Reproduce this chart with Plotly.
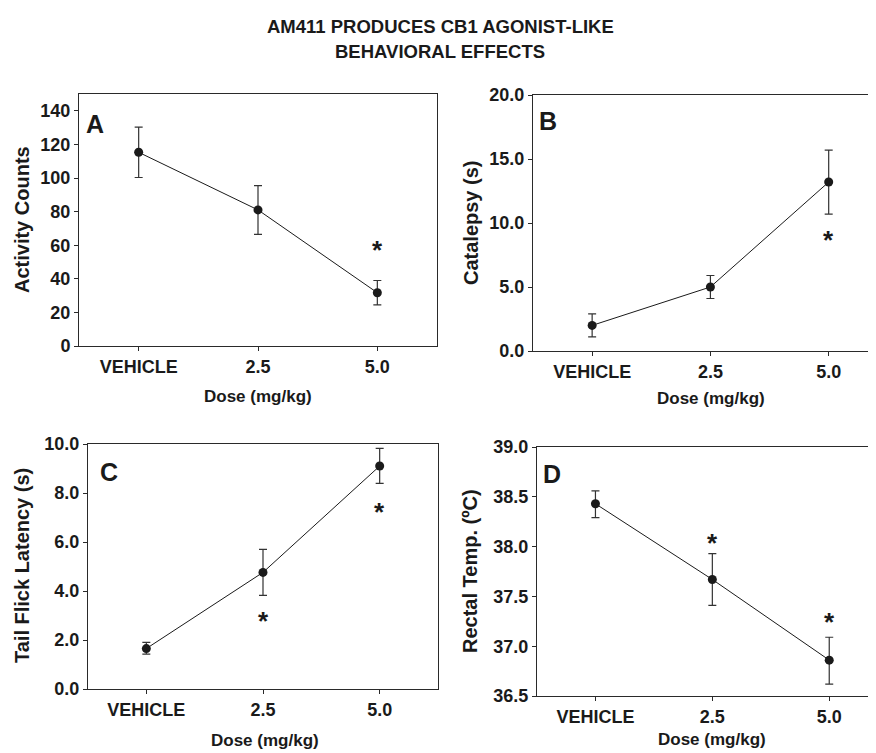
import plotly.graph_objects as go

W, H = 876, 753
OFF = 8  # page body margin offset seen in the rendered screenshot

categories = ["VEHICLE", "2.5", "5.0"]

# Panel A: Activity counts
a_mean = [115.3, 81.0, 31.7]
a_err_hi = [15.0, 14.5, 7.3]
a_err_lo = [15.0, 14.5, 7.2]
a_stars_x = [2]
a_stars_y = [59.0]

# Panel B: Catalepsy
b_mean = [2.0, 5.0, 13.2]
b_err_hi = [0.9, 0.9, 2.5]
b_err_lo = [0.9, 0.9, 2.5]
b_stars_x = [2]
b_stars_y = [8.9]

# Panel C: Tail flick latency
c_mean = [1.65, 4.76, 9.1]
c_err_hi = [0.25, 0.94, 0.72]
c_err_lo = [0.23, 0.94, 0.71]
c_stars_x = [1, 2]
c_stars_y = [2.9, 7.34]

# Panel D: Rectal temperature
d_mean = [38.43, 37.67, 36.86]
d_err_hi = [0.13, 0.26, 0.23]
d_err_lo = [0.14, 0.26, 0.24]
d_stars_x = [1, 2]
d_stars_y = [38.07, 37.27]

FONT = "Liberation Sans, Arial, sans-serif"
INK = "#1a1a1a"
AXC = "#2a2a2a"

def px(x):
    return min(max((x - OFF) / W, 0.0), 1.0)

def py(y):
    return min(max(1 - (y - OFF) / H, 0.0), 1.0)

# pixel boxes (screen coords): left, right, top, bottom
boxes = {
    "A": (79, 437, 94, 346),
    "B": (533, 876, 95, 351),
    "C": (88, 438, 444, 689),
    "D": (537, 876, 447, 696),
}

panels = [
    ("A", a_mean, a_err_hi, a_err_lo, a_stars_x, a_stars_y, [0, 150], list(range(0, 141, 20)), None, "Activity Counts", [-0.5, 2.5], True),
    ("B", b_mean, b_err_hi, b_err_lo, b_stars_x, b_stars_y, [0, 20], [0, 5, 10, 15, 20], ".1f", "Catalepsy (s)", [-0.5, 2.4], False),
    ("C", c_mean, c_err_hi, c_err_lo, c_stars_x, c_stars_y, [0, 10], [0, 2, 4, 6, 8, 10], ".1f", "Tail Flick Latency (s)", [-0.5, 2.5], True),
    ("D", d_mean, d_err_hi, d_err_lo, d_stars_x, d_stars_y, [36.5, 39.0], [36.5, 37.0, 37.5, 38.0, 38.5, 39.0], ".1f", "Rectal Temp. (ºC)", [-0.5, 2.4], False),
]

ytitle_pos = {"A": (22, 220), "B": (471, 223), "C": (22, 566), "D": (470, 571)}
xtitle_pos = {"A": (258, 396), "B": (711, 398), "C": (265, 740), "D": (712, 739)}
letter_pos = {"A": (95, 124), "B": (548, 121), "C": (109, 472), "D": (552, 474)}

fig = go.Figure()
layout = dict(
    width=W, height=H,
    margin=dict(l=0, r=0, t=0, b=0, pad=0, autoexpand=False),
    paper_bgcolor="white", plot_bgcolor="white",
    showlegend=False,
    font=dict(family=FONT, color=INK),
)
annotations = []

xs = [0, 1, 2]
for i, (lab, mean, ehi, elo, sx, sy, yr, ytv, yfmt, ytitle, xr, fullbox) in enumerate(panels):
    n = "" if i == 0 else str(i + 1)
    l, r, t, b = boxes[lab]
    fig.add_trace(go.Scatter(
        x=xs, y=mean, mode="lines+markers",
        line=dict(color=INK, width=1),
        marker=dict(color=INK, size=9, symbol="circle"),
        error_y=dict(type="data", array=ehi, arrayminus=elo, visible=True,
                     color="#333333", thickness=1.2, width=4),
        xaxis="x" + n, yaxis="y" + n,
    ))
    ticktext = [f"{v:{yfmt}}" if yfmt else str(v) for v in ytv]
    layout["xaxis" + n] = dict(
        domain=[px(l), px(r)], anchor="y" + n, range=xr,
        tickvals=xs, ticktext=categories, ticks="outside", ticklen=4,
        tickcolor=AXC, showline=True, linecolor=AXC, linewidth=1,
        mirror=True, showgrid=False, zeroline=False, automargin=False,
        tickfont=dict(family=FONT, size=18, weight="bold", color=INK),
        fixedrange=True,
    )
    layout["yaxis" + n] = dict(
        domain=[py(b), py(t)], anchor="x" + n, range=yr,
        tickvals=ytv, ticktext=ticktext, ticks="outside", ticklen=4,
        tickcolor=AXC, showline=True, linecolor=AXC, linewidth=1,
        mirror=fullbox, showgrid=False, zeroline=False, automargin=False,
        tickfont=dict(family=FONT, size=18, weight="bold", color=INK),
        fixedrange=True,
    )
    # significance stars
    for xv, yv in zip(sx, sy):
        annotations.append(dict(
            x=xv, y=yv, xref="x" + n, yref="y" + n, text="*", showarrow=False,
            font=dict(family=FONT, size=26, weight="bold", color=INK),
            xanchor="center", yanchor="middle", yshift=-3,
        ))
    # panel letter
    lx, ly = letter_pos[lab]
    annotations.append(dict(
        x=px(lx), y=py(ly), xref="paper", yref="paper", text=lab, showarrow=False,
        font=dict(family=FONT, size=25, weight="bold", color=INK),
        xanchor="center", yanchor="middle",
    ))
    # y title
    tx, ty = ytitle_pos[lab]
    annotations.append(dict(
        x=px(tx), y=py(ty), xref="paper", yref="paper", text=ytitle, showarrow=False,
        textangle=-90,
        font=dict(family=FONT, size=20, weight="bold", color=INK),
        xanchor="center", yanchor="middle",
    ))
    # x title
    tx, ty = xtitle_pos[lab]
    annotations.append(dict(
        x=px(tx), y=py(ty), xref="paper", yref="paper", text="Dose (mg/kg)", showarrow=False,
        font=dict(family=FONT, size=17, weight="bold", color=INK),
        xanchor="center", yanchor="middle",
    ))

annotations.append(dict(
    x=px(440), y=py(27), xref="paper", yref="paper",
    text="AM411 PRODUCES CB1 AGONIST-LIKE", showarrow=False,
    font=dict(family=FONT, size=18.5, weight="bold", color=INK),
    xanchor="center", yanchor="middle",
))
annotations.append(dict(
    x=px(440), y=py(52), xref="paper", yref="paper",
    text="BEHAVIORAL EFFECTS", showarrow=False,
    font=dict(family=FONT, size=18.5, weight="bold", color=INK),
    xanchor="center", yanchor="middle",
))

layout["annotations"] = annotations
fig.update_layout(**layout)
fig.write_html("out.html")
